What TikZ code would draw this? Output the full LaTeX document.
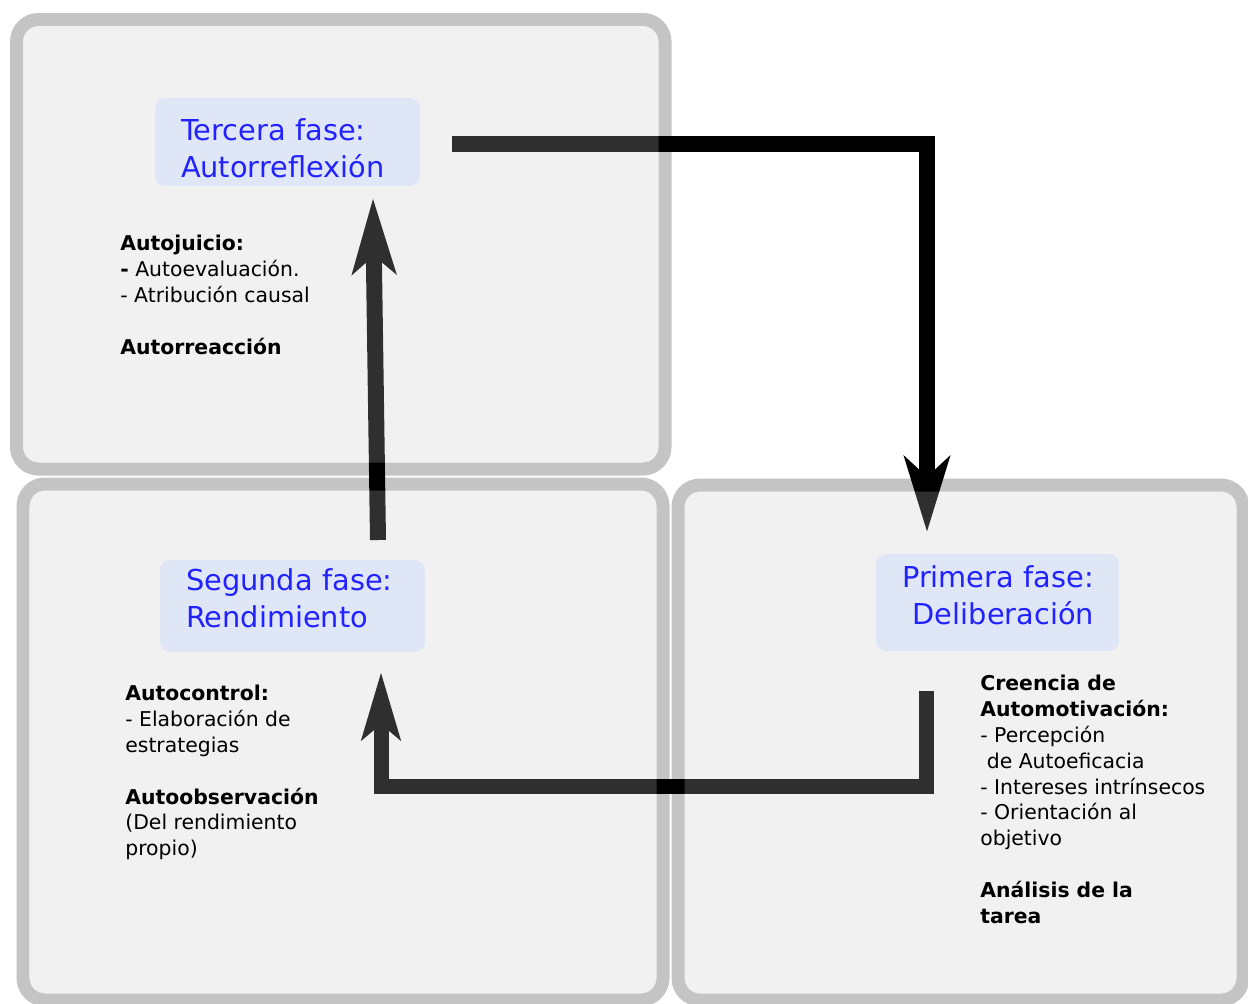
\documentclass[tikz,border=0pt]{standalone}
\usepackage{fontspec}
\setmainfont{DejaVu Sans}
\usetikzlibrary{arrows.meta}
\definecolor{boxgray}{HTML}{C4C4C4}
\definecolor{shade}{HTML}{C8C8C8}
\definecolor{labelfill}{HTML}{DFE6F6}
\definecolor{labelblue}{HTML}{2222FF}
\begin{document}
\begin{tikzpicture}[x=0.02cm, y=-0.02cm,
  boxline/.style={draw=boxgray, line width=0.26cm, rounded corners=0.44cm},
  boxfill/.style={fill=shade, fill opacity=0.24, rounded corners=0.31cm},
  flow/.style={draw=black, line width=0.33cm, line join=miter},
  fase/.style={fill=labelfill, rounded corners=0.2cm, text=labelblue, inner ysep=0pt,
    inner xsep=0.52cm, text width=4.26cm, font=\fontsize{16.4pt}{21pt}\selectfont},
  notes/.style={anchor=north west, inner sep=0pt, align=left,
    font=\fontsize{11.6pt}{14.74pt}\selectfont}]
\useasboundingbox (0,0) rectangle (1248,1004);
\fill[white] (0,0) rectangle (1248,1004);

% the three phase areas
\foreach \xa/\ya/\xb/\yb in {16.5/19.5/665/469, 23/484/663/1000, 678/485/1243/1000}
  \draw[boxline] (\xa,\ya) rectangle (\xb,\yb);

% cycle arrows
\coordinate (a1s) at (452,144);
\coordinate (a1e) at (927,532);
\coordinate (a2s) at (378,540);
\coordinate (a2e) at (373,198);
\coordinate (a3s) at (926,691);
\coordinate (a3c) at (926,786);
\coordinate (a3e) at (381,672);

\draw[flow, -{Stealth[length=1.5cm, width=0.9cm, inset=0.4cm]}] (a1s) -| (a1e);
\draw[flow, line width=0.32cm, -{Stealth[length=1.5cm, width=0.86cm, inset=0.35cm]}] (a2s) -- (a2e);
\draw[flow, line width=0.3cm, -{Stealth[length=1.34cm, width=0.76cm, inset=0.3cm]}] (a3s) -- (a3c) -| (a3e);

\foreach \xa/\ya/\xb/\yb in {16.5/19.5/665/469, 23/484/663/1000, 678/485/1243/1000}
  \fill[boxfill] (\xa+6.5,\ya+6.5) rectangle (\xb-6.5,\yb-6.5);

% phase titles
\node[fase, minimum height=1.76cm, align=left] (tercera) at (287.5,142)
  {\rule[-0.1cm]{0pt}{0.804cm}Tercera fase:\\Autorreflexión};
\node[fase, minimum height=1.84cm, align=left] (segunda) at (292.5,606)
  {\rule{0pt}{0.48cm}Segunda fase:\\Rendimiento\rule[-0.356cm]{0pt}{0.356cm}};
\node[fase, minimum height=1.94cm, inner xsep=0.5cm, text width=3.86cm, align=right] (primera) at (997.5,602.5)
  {\rule{0pt}{0.48cm}Primera fase:\\Deliberación\rule[-0.336cm]{0pt}{0.336cm}};

% phase contents
\node[notes] (juicio) at (120,232) {\strut\textbf{Autojuicio:}\\\textbf{-} Autoevaluación.\\- Atribución causal\\[14.74pt]\textbf{Autorreacción}};
\node[notes] (control) at (125,682) {\strut\textbf{Autocontrol:}\\- Elaboración de\\estrategias\\[14.74pt]\textbf{Autoobservación}\\(Del rendimiento\\propio)};
\node[notes] (creencia) at (980,672) {\strut\textbf{Creencia de}\\\textbf{Automotivación:}\\- Percepción\\\ de Autoeficacia\\- Intereses intrínsecos\\- Orientación al\\objetivo\\[14.74pt]\textbf{Análisis de la}\\\textbf{tarea}};
\end{tikzpicture}
\end{document}
